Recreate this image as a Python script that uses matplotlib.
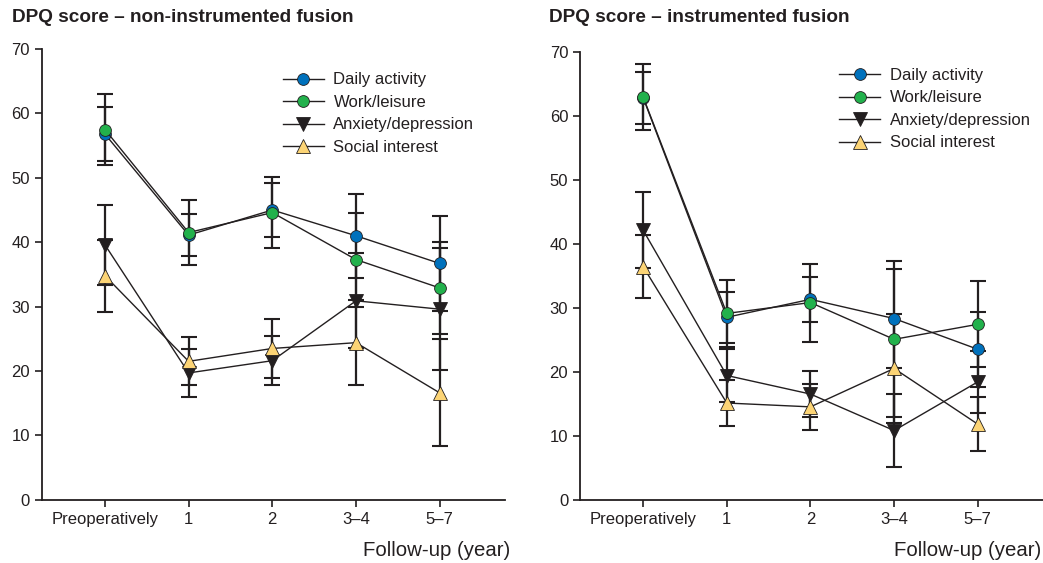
import matplotlib
matplotlib.use("Agg")
import matplotlib.pyplot as plt

plt.rcParams['font.family'] = ['Liberation Sans', 'DejaVu Sans']

categories = ["Preoperatively", "1", "2", "3\u20134", "5\u20137"]
series_names = ["Daily activity", "Work/leisure", "Anxiety/depression", "Social interest"]

# Non-instrumented fusion (mean, error)
daily_ni = [56.8, 41.1, 45.0, 41.0, 36.7]
daily_ni_err = [4.25, 3.3, 4.15, 6.55, 7.4]
work_ni = [57.5, 41.5, 44.6, 37.3, 32.9]
work_ni_err = [5.5, 5.1, 5.45, 7.3, 7.15]
anx_ni = [39.6, 19.7, 21.6, 30.9, 29.6]
anx_ni_err = [6.25, 3.7, 3.85, 7.4, 9.5]
soc_ni = [34.8, 21.5, 23.5, 24.4, 16.6]
soc_ni_err = [5.6, 3.75, 4.6, 6.6, 8.3]

# Instrumented fusion (mean, error)
daily_i = [62.9, 28.6, 31.4, 28.4, 23.6]
daily_i_err = [4.1, 4.0, 3.55, 7.7, 5.9]
work_i = [63.0, 29.2, 30.9, 25.15, 27.5]
work_i_err = [5.1, 5.2, 6.1, 12.2, 6.7]
anx_i = [42.2, 19.5, 16.6, 10.9, 18.5]
anx_i_err = [5.95, 4.1, 3.65, 5.7, 4.8]
soc_i = [36.5, 15.2, 14.6, 20.6, 11.9]
soc_i_err = [4.95, 3.6, 3.65, 8.5, 4.25]

titles = ["DPQ score \u2013 non-instrumented fusion", "DPQ score \u2013 instrumented fusion"]
xlabel = "Follow-up (year)"
yticks = [0, 10, 20, 30, 40, 50, 60, 70]

DARK = "#231f20"
styles = [
    dict(marker="o", mfc="#0071bc", ms=8.5),
    dict(marker="o", mfc="#22b14c", ms=8.5),
    dict(marker="v", mfc=DARK, ms=9.5),
    dict(marker="^", mfc="#fcd475", ms=9.5),
]

fig = plt.figure(figsize=(10.43, 5.63), dpi=100)
W, H = 1043, 563
ax_boxes = [
    (41.7 / W, 1 - 499.8 / H, (505 - 41.7) / W, (499.8 - 49.0) / H),
    (580 / W, 1 - 500.3 / H, (1043 - 580) / W, (500.3 - 52.3) / H),
]
panels = [
    ([daily_ni, work_ni, anx_ni, soc_ni], [daily_ni_err, work_ni_err, anx_ni_err, soc_ni_err]),
    ([daily_i, work_i, anx_i, soc_i], [daily_i_err, work_i_err, anx_i_err, soc_i_err]),
]
legend_anchor = [(0.52, 0.948), (0.559, 0.965)]
title_x = [12, 549]
label_right = [510, 1041]

xs = list(range(len(categories)))
for k, (box, (vals, errs)) in enumerate(zip(ax_boxes, panels)):
    ax = fig.add_axes(box)
    handles = []
    for name, v, e, st in zip(series_names, vals, errs, styles):
        ax.errorbar(xs, v, yerr=e, fmt="none", ecolor=DARK, elinewidth=1.6,
                    capsize=5.5, capthick=1.5, zorder=2)
        ln, = ax.plot(xs, v, color=DARK, lw=1.0, marker=st["marker"], mfc=st["mfc"],
                      mec=DARK, mew=0.6, ms=st["ms"], zorder=3, label=name)
        handles.append(ln)
    ax.set_xlim(-0.755, 4.78)
    ax.set_ylim(0, 70)
    ax.set_yticks(yticks)
    ax.set_xticks(xs)
    ax.set_xticklabels(categories)
    for s in ["top", "right"]:
        ax.spines[s].set_visible(False)
    for s in ["left", "bottom"]:
        ax.spines[s].set_linewidth(1.3)
        ax.spines[s].set_color(DARK)
    ax.tick_params(axis="both", direction="out", length=5, width=1.2, color=DARK,
                   labelsize=12, labelcolor=DARK, pad=3.5)
    leg = ax.legend(handles=handles, loc="upper left", bbox_to_anchor=legend_anchor[k],
                    frameon=False, fontsize=12, handlelength=2.5, handletextpad=0.55,
                    labelspacing=0.45, borderaxespad=0, borderpad=0)
    for t in leg.get_texts():
        t.set_color(DARK)
    fig.text(title_x[k] / W, 1 - 18 / H, titles[k], fontsize=13.7, fontweight="bold",
             color=DARK, ha="left", va="center")
    fig.text(label_right[k] / W, 1 - 551 / H, xlabel, fontsize=14.7, color=DARK,
             ha="right", va="center")

fig.savefig("out.png", dpi=100)
